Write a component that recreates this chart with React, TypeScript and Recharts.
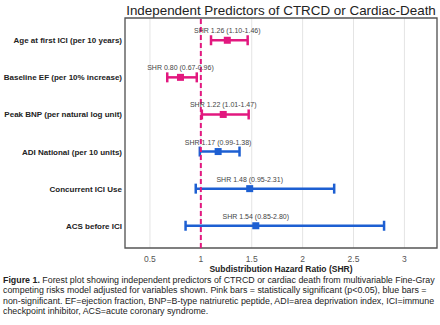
import React from 'react'
import { ScatterChart, Scatter, XAxis, YAxis, ErrorBar, ReferenceLine, ReferenceArea, CartesianGrid } from 'recharts'

const predictors = [
  'Age at first ICI (per 10 years)',
  'Baseline EF (per 10% increase)',
  'Peak BNP (per natural log unit)',
  'ADI National (per 10 units)',
  'Concurrent ICI Use',
  'ACS before ICI',
]
const shr = [1.26, 0.8, 1.22, 1.17, 1.48, 1.54]
const ciLow = [1.1, 0.67, 1.01, 0.99, 0.95, 0.85]
const ciHigh = [1.46, 0.96, 1.47, 1.38, 2.31, 2.8]
const significant = [true, true, true, false, false, false]
const xTicks = [0.5, 1, 1.5, 2, 2.5, 3]

const PINK = '#e2187f'
const BLUE = '#1d5fd2'

const rows = predictors.map((name, i) => ({
  row: i + 1,
  name,
  shr: shr[i],
  err: [shr[i] - ciLow[i], ciHigh[i] - shr[i]],
  text: `SHR ${shr[i].toFixed(2)} (${ciLow[i].toFixed(2)}-${ciHigh[i].toFixed(2)})`,
  sig: significant[i],
}))
const pinkRows = rows.filter((r) => r.sig)
const blueRows = rows.filter((r) => !r.sig)

const font = 'Liberation Sans, Arial, sans-serif'

function Point(props: any) {
  const { cx, cy, payload, fill } = props
  return (
    <g>
      <rect x={cx - 3.5} y={cy - 3.5} width={7} height={7} fill={fill} />
      <text x={cx} y={cy - 7} textAnchor="middle" fontSize={7} fill="#444" fontFamily={font}>
        {payload.text}
      </text>
    </g>
  )
}

function RowTick(props: any) {
  const { y, payload } = props
  return (
    <text x={122} y={y} dy={3} textAnchor="end" fontSize={8} fontWeight="bold" fill="#222" fontFamily={font}>
      {predictors[payload.value - 1]}
    </text>
  )
}

export default function App() {
  return (
    <div style={{ position: 'absolute', left: 0, top: 0, width: 440, height: 325, background: '#fff', fontFamily: font }}>
      <div style={{ position: 'absolute', left: 120, width: 322, top: 3, textAlign: 'center', fontSize: 13.4, color: '#222', whiteSpace: 'nowrap' }}>
        Independent Predictors of CTRCD or Cardiac-Death
      </div>
      <ScatterChart width={440} height={275} margin={{ top: 18, right: 3, bottom: 0, left: 0 }}>
        <CartesianGrid horizontal={false} stroke="#e4e4e4" strokeWidth={1} />
        <XAxis
          type="number"
          dataKey="shr"
          domain={[0.255, 3.32]}
          ticks={xTicks}
          allowDataOverflow
          axisLine={false}
          tickLine={false}
          height={27}
          tick={{ fontSize: 8.5, fill: '#555', fontFamily: font }}
          tickMargin={2}
          label={{ value: 'Subdistribution Hazard Ratio (SHR)', position: 'insideBottom', offset: 3, fontSize: 8.5, fontWeight: 'bold', fill: '#222', fontFamily: font }}
        />
        <YAxis
          type="number"
          dataKey="row"
          domain={[0.4, 6.6]}
          ticks={[1, 2, 3, 4, 5, 6]}
          reversed
          allowDataOverflow
          axisLine={false}
          tickLine={false}
          width={125}
          tick={<RowTick />}
        />
        <ReferenceArea x1={0.255} x2={3.32} y1={0.4} y2={6.6} fill="none" stroke="#555" strokeWidth={1.3} />
        <Scatter data={pinkRows} fill={PINK} shape={<Point />} isAnimationActive={false}>
          <ErrorBar dataKey="err" direction="x" stroke={PINK} strokeWidth={2.5} width={5} />
        </Scatter>
        <Scatter data={blueRows} fill={BLUE} shape={<Point />} isAnimationActive={false}>
          <ErrorBar dataKey="err" direction="x" stroke={BLUE} strokeWidth={2.5} width={5} />
        </Scatter>
        <ReferenceLine x={1} stroke={PINK} strokeWidth={2} strokeDasharray="5 3" />
      </ScatterChart>
      <div style={{ position: 'absolute', left: 3, top: 275, fontSize: 8.85, lineHeight: '10.4px', color: '#222', whiteSpace: 'nowrap' }}>
        <div><b>Figure 1.</b> Forest plot showing independent predictors of CTRCD or cardiac death from multivariable Fine-Gray</div>
        <div>competing risks model adjusted for variables shown. Pink bars = statistically significant (p&lt;0.05), blue bars =</div>
        <div>non-significant. EF=ejection fraction, BNP=B-type natriuretic peptide, ADI=area deprivation index, ICI=immune</div>
        <div>checkpoint inhibitor, ACS=acute coronary syndrome.</div>
      </div>
    </div>
  )
}
